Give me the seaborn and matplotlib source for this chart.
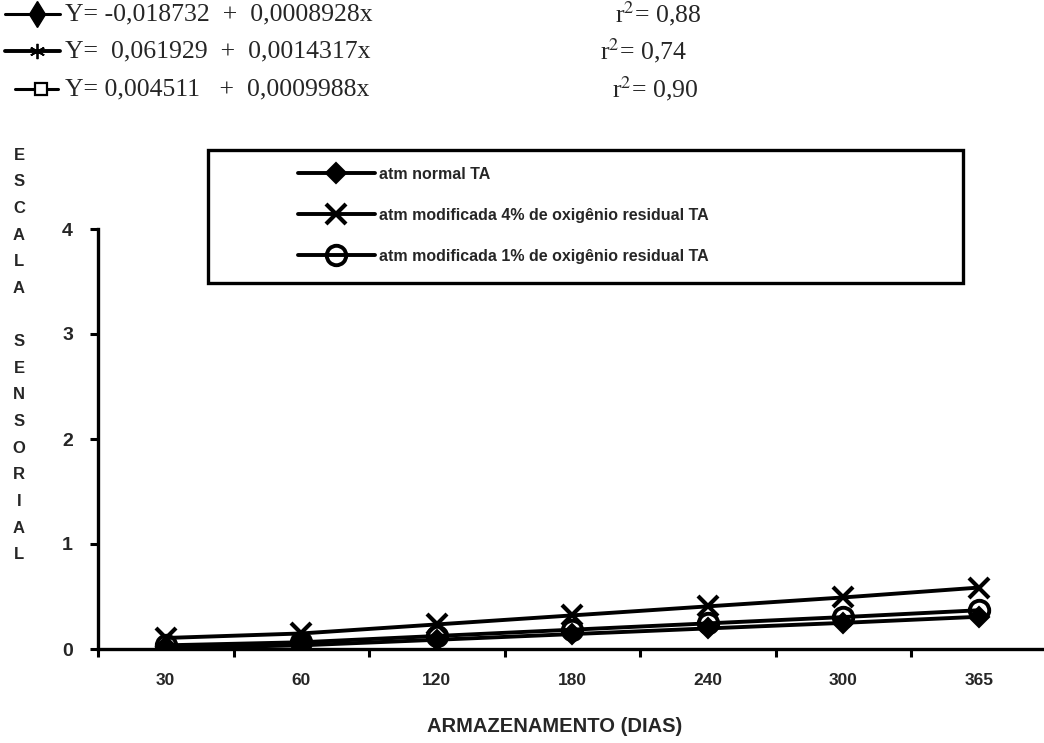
import matplotlib
matplotlib.use('Agg')
import matplotlib.pyplot as plt
from matplotlib.lines import Line2D
from matplotlib.patches import Rectangle
import numpy as np
import pandas as pd
import seaborn as sns

# dias de armazenamento (eixo categórico)
dias = ['30', '60', '120', '180', '240', '300', '365']

# valores (retas ajustadas)
atm_normal = [0.008, 0.035, 0.088, 0.142, 0.196, 0.249, 0.307]
atm_4pct = [0.105, 0.148, 0.234, 0.320, 0.406, 0.491, 0.585]
atm_1pct = [0.035, 0.064, 0.124, 0.184, 0.244, 0.304, 0.369]

series_labels = ['atm normal TA',
                 'atm modificada 4% de oxigênio residual TA',
                 'atm modificada 1% de oxigênio residual TA']

equations = ['Y= -0,018732  +  0,0008928x',
             'Y=  0,061929  +  0,0014317x',
             'Y= 0,004511   +  0,0009988x']
r2_labels = [r'r$^{2}$= 0,88', r'r$^{2}$= 0,74', r'r$^{2}$= 0,90']

sns.set_style('white')
plt.rcParams['font.family'] = ['Liberation Sans', 'DejaVu Sans']
plt.rcParams['mathtext.fontset'] = 'stix'

W, H = 1044, 743
fig = plt.figure(figsize=(W / 100, H / 100), dpi=100)
ax = fig.add_axes([98 / W, 1 - 649 / H, (W - 98) / W, (649 - 229) / H])
ax.set_facecolor('none')

x_pos = np.arange(len(dias))
styles = [
    dict(marker='D', markersize=10, mfc='black', mec='black', mew=1.5),
    dict(marker='x', markersize=15, mec='black', mew=3),
    dict(marker='o', markersize=14, mfc='none', mec='black', mew=2.8),
]
for vals, st in zip([atm_normal, atm_4pct, atm_1pct], styles):
    sns.lineplot(x=x_pos, y=vals, ax=ax, color='black', lw=2.8,
                 legend=False, **st)

ax.set_xlim(-0.5, -0.5 + (W - 98) / 135.5)
ax.set_ylim(0, 4)
sns.despine(ax=ax, top=True, right=True)
for s in ['left', 'bottom']:
    ax.spines[s].set_linewidth(2.4)
    ax.spines[s].set_color('black')

ax.set_yticks([0, 1, 2, 3, 4])
ax.set_yticklabels(['0', '1', '2', '3', '4'], fontsize=14, fontweight='bold')
ax.tick_params(axis='y', direction='out', length=6, width=2.2, pad=12,
               color='black', left=True)

ax.set_xticks(np.arange(-0.5, 6.0, 1.0))
ax.set_xticklabels([])
ax.set_xticks(x_pos, minor=True)
ax.set_xticklabels(dias, minor=True, fontsize=12.5, fontweight='bold')
ax.tick_params(axis='x', which='major', direction='out', length=6, width=2.2,
               color='black', bottom=True)
ax.tick_params(axis='x', which='minor', length=0, pad=17, bottom=True)
ax.grid(False)

# rótulos dos eixos
fig.text(555 / W, 1 - 727 / H, 'ARMAZENAMENTO (DIAS)', ha='center',
         va='center', fontsize=14.5, fontweight='bold')
ylab = list('ESCALA') + [' '] + list('SENSORIAL')
fig.text(19 / W, 1 - 355 / H, '\n'.join(ylab), ha='center', va='center',
         fontsize=12, fontweight='bold', linespacing=1.97)

# legenda com moldura
handles = [Line2D([], [], color='black', lw=2.8, **st) for st in styles]
fig.legend(handles, series_labels, loc='upper left',
           bbox_to_anchor=(298 / W, 1 - 167 / H), frameon=False,
           prop={'weight': 'bold', 'size': 11.5}, handlelength=4.8,
           handletextpad=0.3, labelspacing=1.62, borderpad=0,
           borderaxespad=0)
fig.add_artist(Rectangle((208 / W, 1 - 283 / H), (963 - 208) / W,
                         (283 - 150) / H, transform=fig.transFigure,
                         fill=False, lw=2.4, ec='black'))

# equações de regressão no topo
eq_y = [14, 51, 89]
r2_x = [615, 600, 612]
head_marks = [
    dict(marker='d', markersize=13, mfc='black', mec='black', mew=1),
    dict(marker=(6, 2, 0), markersize=11, mec='black', mew=1.3),
    dict(marker='s', markersize=9, mfc='white', mec='black', mew=1.6),
]
line_x = [(5, 60), (5, 60), (15, 58)]
for i in range(3):
    yy = 1 - eq_y[i] / H
    x0, x1 = line_x[i]
    fig.add_artist(Line2D([x0 / W, x1 / W], [yy, yy], transform=fig.transFigure,
                          color='black', lw=2.8 if i == 1 else 2.2))
    fig.add_artist(Line2D([(x0 + x1) / 2 / W + 0.004], [yy],
                          transform=fig.transFigure, color='black', lw=0,
                          **head_marks[i]))
    fig.text(65 / W, yy, equations[i], ha='left', va='center', fontsize=18.5,
             family=['Liberation Serif', 'DejaVu Serif'])
    fig.text(r2_x[i] / W, yy, r2_labels[i], ha='left', va='center',
             fontsize=18.5, family=['Liberation Serif', 'DejaVu Serif'])

fig.savefig('out.png', dpi=100)
